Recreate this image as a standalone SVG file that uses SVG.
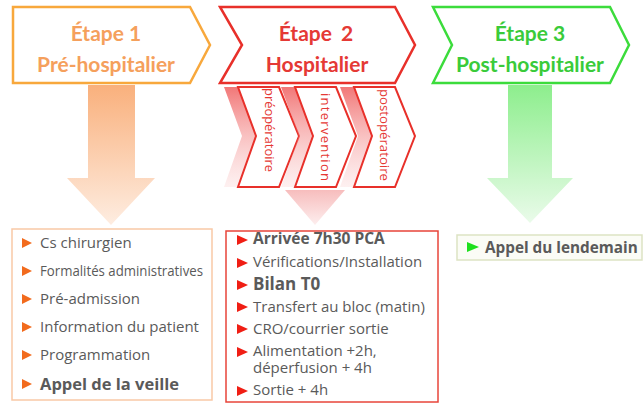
<svg xmlns="http://www.w3.org/2000/svg" width="644" height="405" viewBox="0 0 644 405">
<defs>
<linearGradient id="gOr" x1="0" y1="0" x2="0" y2="1"><stop offset="0" stop-color="#F9B07C"/><stop offset="1" stop-color="#FEEDE1"/></linearGradient>
<linearGradient id="gGr" x1="0" y1="0" x2="0" y2="1"><stop offset="0" stop-color="#8DEE8D"/><stop offset="1" stop-color="#EAFBEA"/></linearGradient>
<linearGradient id="gRd" x1="0" y1="0" x2="0" y2="1"><stop offset="0" stop-color="#F7BDBD"/><stop offset="1" stop-color="#FDEEEE"/></linearGradient>
<linearGradient id="gBand" x1="0" y1="0" x2="0" y2="1"><stop offset="0" stop-color="#EE5555" stop-opacity="0.8"/><stop offset="1" stop-color="#F8B5B5" stop-opacity="0.2"/></linearGradient>
</defs>
<style>
.title{font-family:Lato,"Liberation Sans",sans-serif;font-weight:bold;font-size:21px;text-anchor:middle}
.sub{font-family:"Open Sans","Liberation Sans",sans-serif;font-size:13px;fill:#E53935;text-anchor:middle}
.item{font-family:"Open Sans","Liberation Sans",sans-serif;font-size:15px;fill:#5A5A5A}
.b{font-weight:bold}
.chev{fill:#fff;stroke:#E8302A;stroke-width:2;stroke-linejoin:miter}
</style>
<rect width="644" height="405" fill="#fff"/>
<g id="connectors">
<polygon points="88,85 135,85 135,178 155,178 111,225 67,178 88,178" fill="url(#gOr)"/>
<polygon points="508,85 552,85 552,178 573,178 530,223 487,178 508,178" fill="url(#gGr)"/>
<polygon points="285,190 345,190 315,225" fill="url(#gRd)"/>
</g>
<g id="stage1">
<polygon points="13,7 190,7 210,45 190,83 13,83" fill="#fff" stroke="#F8A83C" stroke-width="2.5"/>
<text class="title" x="106" y="41" fill="#F5A05C">Étape 1</text>
<text class="title" x="106" y="72" fill="#F5A05C">Pré-hospitalier</text>
</g>
<g id="stage2">
<polygon points="220,7 395,7 415,45 395,83 220,83 242,45" fill="#fff" stroke="#E8302A" stroke-width="2.5"/>
<text class="title" x="316" y="41" fill="#E53935" word-spacing="4">Étape 2</text>
<text class="title" x="317" y="72" fill="#E53935">Hospitalier</text>
</g>
<g id="stage3">
<polygon points="433,7 610,7 629,45 610,83 433,83 452,45" fill="#fff" stroke="#3CDC3C" stroke-width="2.5"/>
<text class="title" x="530" y="41" fill="#3ACB3A">Étape 3</text>
<text class="title" x="530" y="72" fill="#3ACB3A">Post-hospitalier</text>
</g>
<g id="sub1">
<polygon points="224,87 265,87 285,136 265,187 224,187 242,136" fill="url(#gBand)"/>
<polygon class="chev" points="238,87 279,87 299,136 279,187 238,187 256,136"/>
<text class="sub" transform="translate(269,130) rotate(90)" x="0" y="4.5" textLength="84" lengthAdjust="spacingAndGlyphs">préopératoire</text>
</g>
<g id="sub2">
<polygon points="281,87 322,87 342,136 322,187 281,187 299,136" fill="url(#gBand)"/>
<polygon class="chev" points="295,87 336,87 356,136 336,187 295,187 313,136"/>
<text class="sub" transform="translate(325,137) rotate(90)" x="0" y="4.5" textLength="88" lengthAdjust="spacing">intervention</text>
</g>
<g id="sub3">
<polygon points="340,87 381,87 401,136 381,187 340,187 358,136" fill="url(#gBand)"/>
<polygon class="chev" points="354,87 395,87 415,136 395,187 354,187 372,136"/>
<text class="sub" transform="translate(384,135) rotate(90)" x="0" y="4.5" textLength="92" lengthAdjust="spacingAndGlyphs">postopératoire</text>
</g>
<g id="list1">
<rect x="12" y="229" width="200" height="171" fill="#fff" stroke="#F9C9A6" stroke-width="1.5"/>
<g fill="#F26B1D">
<polygon points="22,238 22,248 32,243"/>
<polygon points="22,266 22,276 32,271"/>
<polygon points="22,294 22,304 32,299"/>
<polygon points="22,322 22,332 32,327"/>
<polygon points="22,350 22,360 32,355"/>
<polygon points="22,379 22,389 32,384"/>
</g>
<text class="item" x="40" y="248">Cs chirurgien</text>
<text class="item" x="40" y="276" textLength="163" lengthAdjust="spacingAndGlyphs">Formalités administratives</text>
<text class="item" x="40" y="304">Pré-admission</text>
<text class="item" x="40" y="332">Information du patient</text>
<text class="item" x="40" y="360">Programmation</text>
<text class="item b" x="40" y="390" style="font-size:16.5px">Appel de la veille</text>
</g>
<g id="list2">
<rect x="226" y="231" width="212" height="171" fill="#fff" stroke="#E8443A" stroke-width="1.5"/>
<g fill="#F01E14">
<polygon points="237,235 237,245 248,240"/>
<polygon points="237,258 237,268 248,263"/>
<polygon points="237,280 237,290 248,285"/>
<polygon points="237,302 237,312 248,307"/>
<polygon points="237,324 237,334 248,329"/>
<polygon points="237,347 237,357 248,352"/>
<polygon points="237,386 237,396 248,391"/>
</g>
<text class="item b" x="253" y="244" style="font-size:15.5px">Arrivée 7h30 PCA</text>
<text class="item" x="253" y="267">Vérifications/Installation</text>
<text class="item b" x="253" y="290" style="font-size:17px">Bilan T0</text>
<text class="item" x="253" y="312">Transfert au bloc (matin)</text>
<text class="item" x="253" y="334">CRO/courrier sortie</text>
<text class="item" x="253" y="356">Alimentation +2h,</text>
<text class="item" x="253" y="373">déperfusion + 4h</text>
<text class="item" x="253" y="395">Sortie + 4h</text>
</g>
<g id="list3">
<rect x="457" y="235" width="185" height="25" fill="#FBFCF6" stroke="#DDE3C3" stroke-width="1.5"/>
<polygon points="467,242 467,252 479,247" fill="#1EE01E"/>
<text class="item b" x="485" y="253" style="font-size:15.3px">Appel du lendemain</text>
</g>
</svg>
